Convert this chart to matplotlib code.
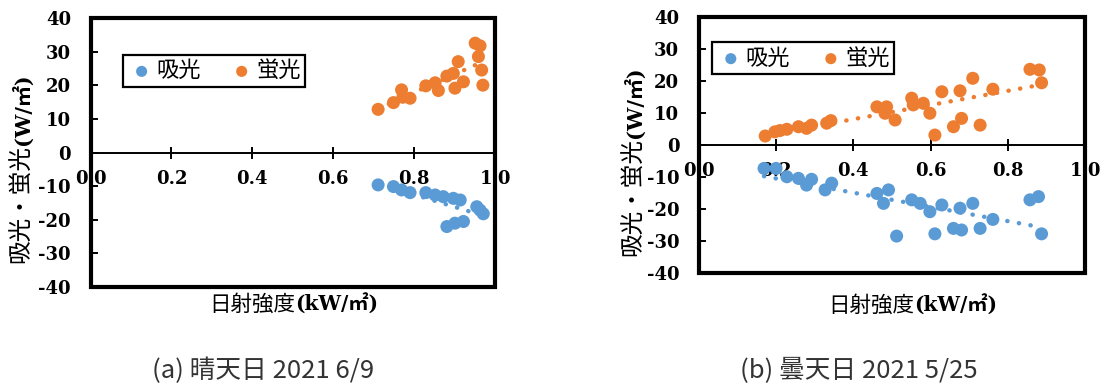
import matplotlib
matplotlib.use("Agg")
import matplotlib.pyplot as plt
import numpy as np
from matplotlib.patches import Rectangle

plt.rcParams['axes.unicode_minus'] = False

# ---- data: (a) sunny day 2021 6/9 ----
sun_abs_x = [0.711, 0.749, 0.769, 0.790, 0.829, 0.852, 0.872, 0.897, 0.914,
             0.881, 0.901, 0.922, 0.955, 0.963, 0.971]
sun_abs_y = [-9.6, -10.1, -11.1, -11.9, -11.9, -12.6, -13.1, -13.6, -14.1,
             -22.0, -21.0, -20.5, -16.1, -17.1, -18.2]
sun_flu_x = [0.711, 0.749, 0.769, 0.790, 0.772, 0.829, 0.852, 0.860, 0.881, 0.901,
             0.909, 0.897, 0.922, 0.951, 0.963, 0.959, 0.967, 0.970]
sun_flu_y = [12.9, 14.9, 18.7, 16.2, 16.5, 19.9, 20.8, 18.5, 22.8, 19.2,
             27.1, 23.6, 21.1, 32.6, 31.8, 28.6, 24.6, 20.1]

# ---- data: (b) cloudy day 2021 5/25 ----
cld_abs_x = [0.169, 0.200, 0.228, 0.258, 0.279, 0.292, 0.327, 0.344, 0.461, 0.491,
             0.478, 0.512, 0.551, 0.573, 0.598, 0.629, 0.611, 0.659, 0.680, 0.676,
             0.709, 0.728, 0.761, 0.857, 0.879, 0.887]
cld_abs_y = [-7.3, -7.3, -9.9, -10.4, -12.5, -10.7, -14.0, -11.9, -15.1, -14.0,
             -18.2, -28.4, -17.1, -18.2, -20.8, -18.7, -27.7, -26.0, -26.5, -19.7,
             -18.2, -26.0, -23.2, -17.1, -16.1, -27.7]
cld_flu_x = [0.172, 0.197, 0.210, 0.228, 0.258, 0.279, 0.292, 0.331, 0.342, 0.461,
             0.486, 0.482, 0.508, 0.551, 0.555, 0.581, 0.598, 0.629, 0.611, 0.659,
             0.680, 0.676, 0.709, 0.728, 0.761, 0.857, 0.881, 0.887]
cld_flu_y = [2.8, 4.1, 4.5, 4.9, 5.7, 5.2, 6.2, 6.8, 7.6, 11.9,
             11.9, 9.9, 7.8, 14.6, 12.5, 13.0, 9.9, 16.6, 3.1, 5.7,
             8.3, 16.9, 20.8, 6.2, 17.4, 23.6, 23.4, 19.4]

x_ticks = [0.0, 0.2, 0.4, 0.6, 0.8, 1.0]
y_ticks = [-40, -30, -20, -10, 0, 10, 20, 30, 40]
series_names = ['吸光', '蛍光']
captions = ['(a) 晴天日 2021 6/9', '(b) 曇天日 2021 5/25']
# axis titles split in a CJK run and a latin run (different fonts)
ylab_parts = ['吸光・蛍光', '(W/㎡)']
xlab_parts = ['日射強度', '(kW/㎡)']

BLUE = '#5B9BD5'
ORANGE = '#ED7D31'
NUM_FONT = 'DejaVu Serif'
LATIN_FONT = ['DejaVu Serif', 'Noto Sans CJK JP']
CJK_FONT = ['Noto Sans CJK JP', 'DejaVu Sans']

W, H = 1100, 384
fig = plt.figure(figsize=(W / 100, H / 100), dpi=100)


def draw_panel(rect, abs_x, abs_y, flu_x, flu_y, leg_pos):
    ax = fig.add_axes(rect)
    ax.set_xlim(0, 1.0)
    ax.set_ylim(-40, 40)

    for xs, ys, col, name in [(abs_x, abs_y, BLUE, series_names[0]),
                              (flu_x, flu_y, ORANGE, series_names[1])]:
        ax.scatter(xs, ys, s=88, color=col, edgecolors='none', label=name, zorder=3)
        # linear trend line (dotted)
        k, b = np.polyfit(xs, ys, 1)
        xx = np.array([min(xs), max(xs)])
        ax.plot(xx, k * xx + b, color=col, lw=3.2, linestyle=(0, (0.05, 2.6)),
                dash_capstyle='round', zorder=4)

    # outer frame
    for s in ['top', 'left', 'right']:
        ax.spines[s].set_visible(False)
    ax.add_patch(Rectangle((0, 0), 1, 1, transform=ax.transAxes, fill=False,
                           lw=3, edgecolor='black', clip_on=False, zorder=5))
    # x axis on zero line
    ax.spines['bottom'].set_position(('data', 0))
    ax.spines['bottom'].set_linewidth(1.4)
    ax.spines['bottom'].set_zorder(2)

    ax.set_xticks(x_ticks)
    ax.set_xticklabels([f'{v:.1f}' for v in x_ticks])
    ax.set_yticks(y_ticks)
    ax.set_yticklabels([str(v) for v in y_ticks])
    ax.tick_params(axis='x', direction='inout', length=9, width=1.4, pad=8,
                   labelsize=13)
    ax.tick_params(axis='y', direction='in', length=5, width=1.4, pad=14,
                   labelsize=13)
    for lab in ax.get_xticklabels() + ax.get_yticklabels():
        lab.set_fontfamily(NUM_FONT)
        lab.set_fontweight('bold')

    leg = ax.legend(loc='center', bbox_to_anchor=leg_pos, ncol=2, frameon=True,
                    fancybox=False, edgecolor='black', framealpha=1,
                    prop={'family': CJK_FONT, 'size': 16},
                    handletextpad=0.0, columnspacing=1.2, borderpad=0.2,
                    handlelength=1.3, markerscale=0.85)
    leg.get_frame().set_linewidth(1.6)
    return ax


def mixed_title(cx, cy, parts, sizes, rot):
    # cx, cy in pixels from top-left; runs laid end to end around the centre
    r = fig.canvas.get_renderer()
    arts = []
    for i, s in enumerate(parts):
        if i == 0:
            kw = dict(family=CJK_FONT, fontsize=sizes[0])
        else:
            kw = dict(family=LATIN_FONT, fontsize=sizes[1], fontweight='bold')
        arts.append(fig.text(0, 0, s, rotation=rot, **kw))
    boxes = [t.get_window_extent(r) for t in arts]
    if rot == 0:
        cur = cx - sum(b.width for b in boxes) / 2
        for t, b in zip(arts, boxes):
            t.set_position((cur / W, 1 - cy / H))
            t.set_ha('left')
            t.set_va('baseline')
            cur += b.width
    else:
        cur = cy + sum(b.height for b in boxes) / 2
        for t, b in zip(arts, boxes):
            t.set_position((cx / W, 1 - cur / H))
            t.set_ha('center')
            t.set_va('bottom')
            cur -= b.height


draw_panel([0.0823, 0.2526, 0.3677, 0.6997], sun_abs_x, sun_abs_y,
           sun_flu_x, sun_flu_y, (0.305, 0.805))
draw_panel([0.6352, 0.2883, 0.3514, 0.6682], cld_abs_x, cld_abs_y,
           cld_flu_x, cld_flu_y, (0.270, 0.839))

mixed_title(22, 168, ylab_parts, (17, 15), 90)
mixed_title(634, 161, ylab_parts, (17, 15), 90)
mixed_title(294, 311, xlab_parts, (15.5, 14.5), 0)
mixed_title(913, 312, xlab_parts, (15.5, 14.5), 0)

# captions
fig.text(263 / W, 0.034, captions[0], ha='center', va='center',
         family=CJK_FONT, fontsize=18.5, color='#333333')
fig.text(859 / W, 0.034, captions[1], ha='center', va='center',
         family=CJK_FONT, fontsize=18.5, color='#333333')

fig.savefig('out.png', dpi=100)
